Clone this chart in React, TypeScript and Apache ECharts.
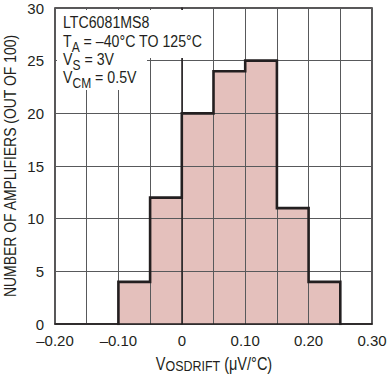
import React, { useEffect, useRef } from "react";
import * as echarts from "echarts";

const binStarts = [-0.1, -0.05, 0, 0.05, 0.1, 0.15, 0.2];
const binWidth = 0.05;
const counts = [4, 12, 20, 24, 25, 11, 4];
const xTicks = { min: -0.2, max: 0.3, interval: 0.05 };
const yTicks = { min: 0, max: 30, interval: 5 };

const FONT = "'Liberation Sans', Arial, sans-serif";
const INK = "#231f20";

function fmtX(v: number): string {
  const k = Math.round(v * 100);
  if (k % 10 !== 0) return "";
  if (k === 0) return "0";
  const s = (Math.abs(k) / 100).toFixed(2);
  return k < 0 ? "\u2013" + s : s;
}

export default function App() {
  const ref = useRef<HTMLDivElement>(null);
  useEffect(() => {
    if (!ref.current) return;
    const chart = echarts.init(ref.current, null, { renderer: "svg" });
    const barData = binStarts.map((s, i) => [s, s + binWidth, counts[i]]);
    const outline: number[][] = [];
    binStarts.forEach((s, i) => {
      if (i === 0) outline.push([s, 0]);
      outline.push([s, counts[i]]);
      outline.push([s + binWidth, counts[i]]);
    });
    outline.push([binStarts[binStarts.length - 1] + binWidth, 0]);

    const mainTok = { fontSize: 16.5, lineHeight: 20, verticalAlign: "top", fontFamily: FONT, fill: INK };
    const subTok = { fontSize: 14, lineHeight: 28, verticalAlign: "middle", fontFamily: FONT, fill: INK };
    const annot = (y: number, text: string) => ({
      type: "text",
      x: 63,
      y,
      z: 30,
      scaleX: 0.86,
      style: {
        text,
        align: "left",
        verticalAlign: "top",
        rich: { m: mainTok, s: subTok },
      },
    });

    chart.setOption({
      animation: false,
      grid: {
        left: 55,
        right: 19,
        top: 8,
        bottom: 52,
        show: true,
        borderColor: INK,
        borderWidth: 1.5,
        backgroundColor: "#fff",
      },
      xAxis: {
        type: "value",
        min: xTicks.min,
        max: xTicks.max,
        interval: xTicks.interval,
        z: 5,
        axisLine: { show: true, lineStyle: { color: INK, width: 1.5 } },
        axisTick: { show: false },
        splitLine: { show: true, lineStyle: { color: "#58595b", width: 1 } },
        axisLabel: {
          formatter: fmtX,
          color: INK,
          fontSize: 15,
          fontFamily: FONT,
          margin: 9,
          showMinLabel: true,
          showMaxLabel: true,
        },
      },
      yAxis: {
        type: "value",
        min: yTicks.min,
        max: yTicks.max,
        interval: yTicks.interval,
        z: 5,
        axisLine: { show: true, lineStyle: { color: INK, width: 1.5 } },
        axisTick: { show: false },
        splitLine: { show: true, lineStyle: { color: "#58595b", width: 1 } },
        axisLabel: { color: INK, fontSize: 15, fontFamily: FONT, margin: 11 },
      },
      series: [
        {
          type: "custom",
          z: 1,
          data: barData,
          encode: { x: [0, 1], y: 2 },
          renderItem: (params: any, api: any) => {
            const a = api.coord([api.value(0), api.value(2)]);
            const b = api.coord([api.value(1), 0]);
            return {
              type: "rect",
              shape: { x: a[0], y: a[1], width: b[0] - a[0], height: b[1] - a[1] },
              style: { fill: "#e4c0bc" },
            };
          },
        },
        {
          type: "line",
          z: 10,
          data: outline,
          symbol: "none",
          lineStyle: { color: INK, width: 2.6, join: "miter", cap: "square" },
        },
      ],
      graphic: [
        { type: "rect", z: 20, shape: { x: 57, y: 10, width: 150, height: 48 }, style: { fill: "#fff" } },
        { type: "rect", z: 20, shape: { x: 57, y: 58, width: 90, height: 32 }, style: { fill: "#fff" } },
        annot(14, "{m|LTC6081MS8}"),
        annot(33, "{m|T}{s|A}{m| = \u201340\u00b0C TO 125\u00b0C}"),
        annot(51, "{m|V}{s|S}{m| = 3V}"),
        annot(69, "{m|V}{s|CM}{m| = 0.5V}"),
        {
          type: "text",
          x: 214,
          y: 354,
          scaleX: 0.83,
          style: {
            text: "{m|V}{s|OSDRIFT}{m| (\u03bcV/\u00b0C)}",
            align: "center",
            verticalAlign: "top",
            rich: {
              m: { fontSize: 17.5, lineHeight: 20, verticalAlign: "top", fontFamily: FONT, fill: INK },
              s: { fontSize: 15, lineHeight: 25, verticalAlign: "middle", fontFamily: FONT, fill: INK },
            },
          },
        },
        {
          type: "text",
          x: 10,
          y: 166,
          rotation: Math.PI / 2,
          scaleX: 0.82,
          style: {
            text: "NUMBER OF AMPLIFIERS (OUT OF 100)",
            align: "center",
            verticalAlign: "middle",
            fontSize: 17,
            fontFamily: FONT,
            fill: INK,
          },
        },
      ],
    });
    return () => chart.dispose();
  }, []);
  return <div ref={ref} style={{ width: 391, height: 376, position: "absolute", left: 0, top: 0 }} />;
}
